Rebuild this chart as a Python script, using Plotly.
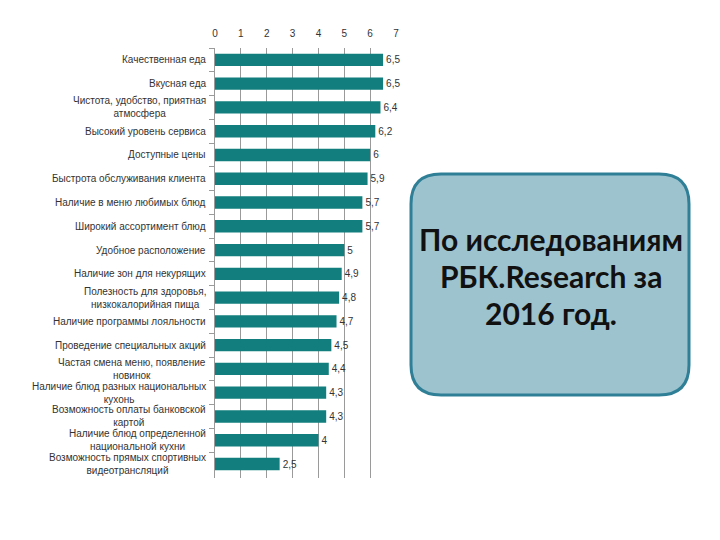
import plotly.graph_objects as go

categories = [
    "Качественная еда",
    "Вкусная еда",
    "Чистота, удобство, приятная<br>атмосфера",
    "Высокий уровень сервиса",
    "Доступные цены",
    "Быстрота обслуживания клиента",
    "Наличие в меню любимых блюд",
    "Широкий ассортимент блюд",
    "Удобное расположение",
    "Наличие зон для некурящих",
    "Полезность для здоровья,<br>низкокалорийная пища",
    "Наличие программы лояльности",
    "Проведение специальных акций",
    "Частая смена меню, появление<br>новинок",
    "Наличие блюд разных национальных<br>кухонь",
    "Возможность оплаты банковской<br>картой",
    "Наличие блюд определенной<br>национальной кухни",
    "Возможность прямых спортивных<br>видеотрансляций",
]
values = [6.5, 6.5, 6.4, 6.2, 6, 5.9, 5.7, 5.7, 5, 4.9, 4.8, 4.7, 4.5, 4.4, 4.3, 4.3, 4, 2.5]
tick_vals = [0, 1, 2, 3, 4, 5, 6, 7]
box_lines = ["По исследованиям", "РБК.Research за", "2016 год."]

OFF = 8  # page body margin
W, H = 720 - OFF, 540 - OFF
L, R, T, B = 215 - OFF, 396 - OFF, 48 - OFF, 478 - OFF

def px2paper(x, y):
    x -= OFF
    y -= OFF
    return (x - L) / (R - L), (B - y) / (B - T)

fig = go.Figure()
fig.add_trace(go.Bar(
    y=categories, x=values, orientation="h",
    marker=dict(color="#127f7e", line=dict(width=0)),
    width=0.52,
    text=[str(v).replace(".", ",") for v in values],
    textposition="outside",
    textfont=dict(family="Liberation Sans", size=10, color="#333333"),
    cliponaxis=False,
))

# category labels (centred multi-line text, right-anchored)
for c in categories:
    fig.add_annotation(x=0, xref="paper", y=c, yref="y", text=c, showarrow=False,
                       xanchor="right", yanchor="middle", align="center", xshift=-7,
                       font=dict(family="Liberation Sans", size=10, color="#333333"))

# rounded box
x0, y0, x1, y1, r = 411, 174, 689, 395, 30
def P(x, y):
    a, b = px2paper(x, y)
    return f"{a:.5f},{b:.5f}"
path = (f"M {P(x0+r, y0)} L {P(x1-r, y0)} Q {P(x1, y0)} {P(x1, y0+r)} "
        f"L {P(x1, y1-r)} Q {P(x1, y1)} {P(x1-r, y1)} "
        f"L {P(x0+r, y1)} Q {P(x0, y1)} {P(x0, y1-r)} "
        f"L {P(x0, y0+r)} Q {P(x0, y0)} {P(x0+r, y0)} Z")
fig.add_shape(type="path", path=path, xref="paper", yref="paper",
              fillcolor="#9dc3cf", line=dict(color="#2f7f97", width=3), layer="above")

for i, line in enumerate(box_lines):
    xp, yp = px2paper(551, 239 + i * 37)
    fig.add_annotation(x=xp, y=yp, xref="paper", yref="paper", text=line,
                       showarrow=False, xanchor="center", yanchor="middle",
                       font=dict(family="Lato", size=30, color="#111111", weight="bold"))

fig.update_layout(
    width=W, height=H,
    margin=dict(l=L, r=W - R, t=T, b=H - B, autoexpand=False),
    paper_bgcolor="white", plot_bgcolor="white",
    showlegend=False,
)
fig.update_xaxes(side="top", range=[0, 7], tickvals=tick_vals,
                 showgrid=True, gridcolor="#9a9a9a", gridwidth=1,
                 zeroline=False, showline=False, ticks="",
                 ticklabelstandoff=8,
                 tickfont=dict(family="Liberation Sans", size=10, color="#333333"))
fig.update_yaxes(autorange="reversed", type="category",
                 showline=True, linecolor="#9a9a9a", linewidth=1,
                 ticks="outside", ticklen=5, tickcolor="#9a9a9a", tickson="boundaries",
                 showgrid=False, showticklabels=False)

fig.write_html("out.html")
